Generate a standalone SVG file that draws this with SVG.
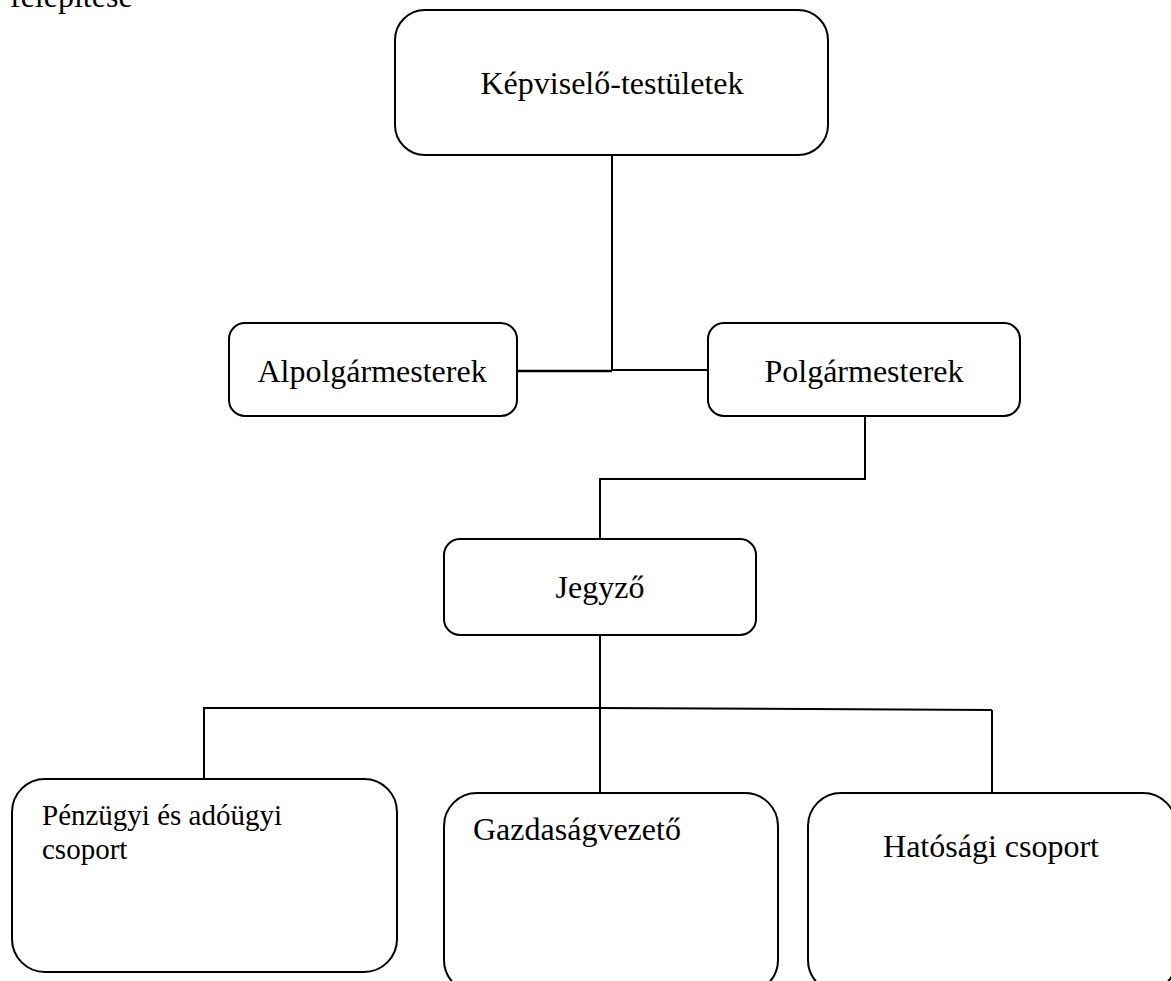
<svg xmlns="http://www.w3.org/2000/svg" width="1171" height="981" viewBox="0 0 1171 981">
<style>
.box{fill:#fff;stroke:#000;stroke-width:2}
.t{font-family:"Liberation Serif","Times New Roman",serif;font-size:32px;fill:#000}
.s{font-size:29px}
.c{text-anchor:middle}
.ln{fill:none;stroke:#000;stroke-width:2}
</style>
<rect width="1171" height="981" fill="#fff"/>
<text class="t" x="10" y="7">felépítése</text>
<g id="connectors">
<line class="ln" x1="612" y1="155" x2="612" y2="371"/>
<line class="ln" x1="517" y1="371" x2="612" y2="371" style="stroke-width:2.6"/>
<line class="ln" x1="612" y1="370" x2="708" y2="370"/>
<polyline class="ln" points="865,416 865,479 600,479 600,539"/>
<line class="ln" x1="600" y1="635" x2="600" y2="793"/>
<polyline class="ln" points="204,779 204,708 600,708 992,710"/>
<line class="ln" x1="992" y1="710" x2="992" y2="793"/>
</g>
<g id="kepviselo">
<rect class="box" x="395" y="10" width="433" height="145" rx="30"/>
<text class="t c" x="612" y="94">Képviselő-testületek</text>
</g>
<g id="alpolgarmesterek">
<rect class="box" x="229" y="323" width="288" height="93" rx="16"/>
<text class="t c" x="372" y="382">Alpolgármesterek</text>
</g>
<g id="polgarmesterek">
<rect class="box" x="708" y="323" width="312" height="93" rx="16"/>
<text class="t c" x="864" y="382">Polgármesterek</text>
</g>
<g id="jegyzo">
<rect class="box" x="444" y="539" width="312" height="96" rx="16"/>
<text class="t c" x="600" y="598">Jegyző</text>
</g>
<g id="penzugyi">
<rect class="box" x="12" y="779" width="385" height="193" rx="33"/>
<text class="t s" x="42" y="825">Pénzügyi és adóügyi</text>
<text class="t s" x="42" y="859">csoport</text>
</g>
<g id="gazdasag">
<rect class="box" x="444" y="793" width="334" height="200" rx="33"/>
<text class="t" x="473" y="840">Gazdaságvezető</text>
</g>
<g id="hatosagi">
<rect class="box" x="808" y="793" width="368" height="200" rx="33"/>
<text class="t c" x="991" y="857">Hatósági csoport</text>
</g>
</svg>
